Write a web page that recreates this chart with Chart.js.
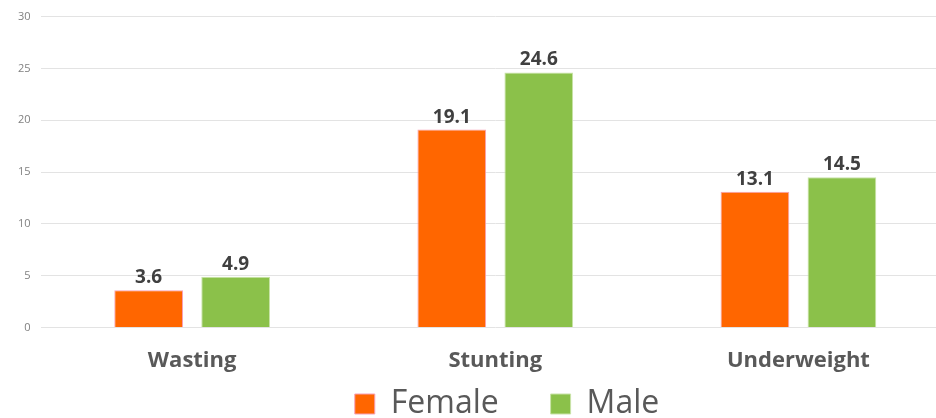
<!DOCTYPE html>
<html>
<head>
<meta charset="utf-8">
<script src="https://cdn.jsdelivr.net/npm/chart.js@4/dist/chart.umd.min.js"></script>
<style>
  html, body { margin: 0; padding: 0; background: #fff; overflow: hidden; }
  #wrap { width: 950px; height: 418px; }
</style>
</head>
<body>
<div id="wrap"><canvas id="chart"></canvas></div>
<script>
const categories = ["Wasting", "Stunting", "Underweight"];
const femaleValues = [3.6, 19.1, 13.1];
const maleValues = [4.9, 24.6, 14.5];
const yTicks = [0, 5, 10, 15, 20, 25, 30];

const FONT = "'Open Sans', 'Noto Sans', sans-serif";

// draws the bold value above each bar
const valueLabels = {
  id: "valueLabels",
  afterDatasetsDraw(chart) {
    const ctx = chart.ctx;
    ctx.save();
    ctx.font = "bold 19px " + FONT;
    ctx.fillStyle = "#404040";
    ctx.textAlign = "center";
    ctx.textBaseline = "bottom";
    chart.data.datasets.forEach((ds, i) => {
      chart.getDatasetMeta(i).data.forEach((bar, j) => {
        ctx.fillText(ds.data[j].toFixed(1), bar.x, bar.y - 3);
      });
    });
    ctx.restore();
  }
};

// the original legend sits a little right of the canvas centre
const legendNudge = {
  id: "legendNudge",
  afterLayout(chart) {
    chart.legend.left += 28;
    chart.legend.right += 28;
  }
};

new Chart(document.getElementById("chart"), {
  type: "bar",
  data: {
    labels: categories,
    datasets: [
      { label: "Female", data: femaleValues, backgroundColor: "#FF6600", borderColor: "#F7A0B8", borderWidth: 1 },
      { label: "Male", data: maleValues, backgroundColor: "#8BC14A", borderColor: "#C9E3A8", borderWidth: 1 },
    ],
  },
  options: {
    responsive: true,
    maintainAspectRatio: false,
    animation: false,
    layout: { padding: { top: 8, left: 8, right: 0, bottom: -12 } },
    datasets: { bar: { categoryPercentage: 0.574, barPercentage: 0.79 } },
    plugins: {
      tooltip: { enabled: false },
      legend: {
        position: "bottom",
        labels: {
          color: "#595959",
          font: { family: FONT, size: 32 },
          boxWidth: 20,
          boxHeight: 20,
          padding: 2,
          generateLabels(chart) {
            const items = Chart.defaults.plugins.legend.labels.generateLabels(chart);
            items.forEach((it, i) => { if (i < items.length - 1) it.text += "      "; });
            return items;
          },
        },
      },
    },
    scales: {
      x: {
        grid: { display: false },
        border: { display: false },
        ticks: { color: "#595959", font: { family: FONT, size: 22, weight: "bold" }, padding: 12 },
      },
      y: {
        min: 0,
        max: 30,
        afterBuildTicks: (axis) => { axis.ticks = yTicks.map(v => ({ value: v })); },
        grid: { color: "#e3e3e3", drawTicks: false },
        border: { display: false },
        ticks: { color: "#808080", font: { family: FONT, size: 11 }, padding: 10 },
      },
    },
  },
  plugins: [valueLabels, legendNudge],
});
</script>
</body>
</html>
